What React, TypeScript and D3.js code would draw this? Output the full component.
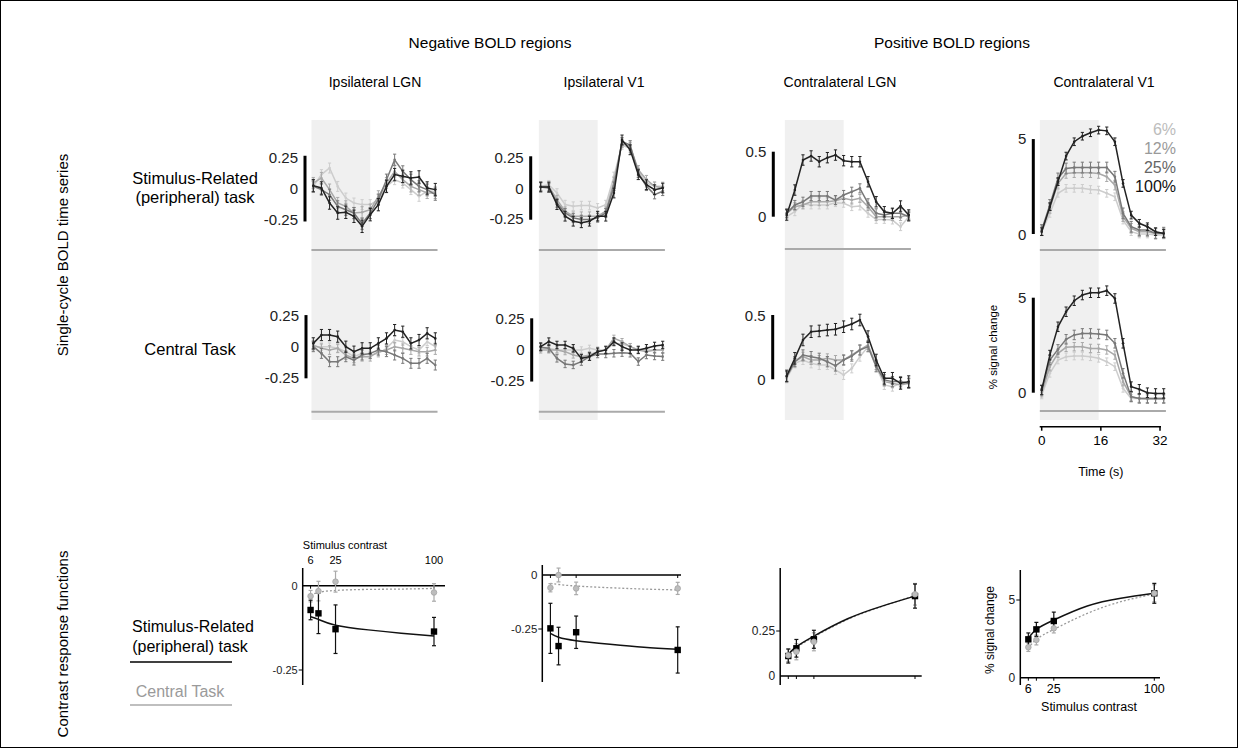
import * as d3 from 'd3';
import { useEffect, useRef } from 'react';

// time points of one stimulus cycle (s) and the contrast levels
const TIME = [0, 2.2, 4.4, 6.6, 8.8, 11, 13.2, 15.4, 17.6, 19.8, 22, 24.2, 26.4, 28.6, 30.8, 33];
const LEVELS = ['6%', '12%', '25%', '100%'];
const LINE_COLORS = ['#cdcdcd', '#a9a9a9', '#787878', '#222222'];
const LEGEND_COLORS = ['#bcbcbc', '#9a9a9a', '#666666', '#111111'];
const TIME_TICKS = [0, 16, 32];

// single-cycle BOLD time series, peripheral task (rows: 6, 12, 25, 100 %)
const IPSI_LGN_PERI = [
  [0.013, 0.108, 0.161, 0.013, -0.081, -0.121, -0.134, -0.134, -0.094, 0.013, 0.067, 0.04, -0.013, -0.067, -0.027, -0.027],
  [0.04, 0.081, -0.013, -0.121, -0.148, -0.202, -0.196, -0.175, -0.067, 0.04, 0.134, 0.067, 0.013, -0.013, -0.04, -0.04],
  [0.013, -0.013, -0.054, -0.148, -0.175, -0.202, -0.288, -0.202, -0.094, 0.067, 0.228, 0.134, 0.067, 0.013, -0.013, -0.054],
  [0.019, 0, -0.121, -0.202, -0.196, -0.228, -0.309, -0.215, -0.134, 0.013, 0.108, 0.094, 0.081, 0.089, 0, -0.013],
];
const IPSI_V1_PERI = [
  [0.014, 0.027, -0.041, -0.136, -0.149, -0.144, -0.144, -0.163, -0.136, 0.095, 0.353, 0.326, 0.136, 0.041, 0.014, 0.014],
  [0.014, 0.014, -0.095, -0.19, -0.231, -0.231, -0.231, -0.231, -0.19, 0.054, 0.367, 0.34, 0.149, 0.068, 0.014, 0],
  [0.008, 0, -0.122, -0.204, -0.245, -0.258, -0.258, -0.245, -0.204, 0.014, 0.38, 0.353, 0.122, 0.014, -0.054, -0.027],
  [0.008, 0.008, -0.136, -0.231, -0.272, -0.285, -0.272, -0.231, -0.231, -0.041, 0.394, 0.313, 0.109, 0.027, -0.014, 0],
];
const CONTRA_LGN_PERI = [
  [0, 0.038, 0.097, 0.09, 0.09, 0.09, 0.108, 0.103, 0.077, 0.082, 0.026, -0.021, -0.021, -0.026, -0.077, 0],
  [0.026, 0.077, 0.09, 0.115, 0.115, 0.115, 0.123, 0.141, 0.128, 0.141, 0.077, 0, 0, 0, 0, 0.013],
  [0.026, 0.09, 0.115, 0.159, 0.159, 0.159, 0.128, 0.167, 0.192, 0.218, 0.103, 0.026, 0.013, 0.026, 0.026, 0],
  [0.013, 0.205, 0.436, 0.467, 0.423, 0.454, 0.474, 0.431, 0.423, 0.423, 0.269, 0.115, 0.038, 0.026, 0.082, 0.013],
];
const CONTRA_V1_PERI = [
  [0.12, 1.08, 2.13, 2.39, 2.39, 2.39, 2.33, 2.3, 2.13, 1.95, 0.73, 0.12, 0, 0, -0.05, -0.05],
  [0.17, 1.34, 2.65, 3.17, 3.21, 3.21, 3.21, 3.17, 3.0, 2.56, 0.91, 0.3, 0.12, 0.12, 0.03, 0.03],
  [0.21, 1.52, 2.91, 3.43, 3.48, 3.48, 3.48, 3.48, 3.48, 3.0, 1.08, 0.38, 0.21, 0.21, 0.03, 0.07],
  [0.12, 1.43, 2.74, 4.08, 4.83, 5.12, 5.3, 5.44, 5.4, 4.83, 2.65, 0.99, 0.56, 0.38, 0.12, 0.03],
];

// central task
const IPSI_LGN_CENT = [
  [0, 0, 0, -0.013, -0.04, -0.081, -0.054, -0.067, -0.054, -0.013, 0.054, 0.04, 0, -0.027, 0.04, 0],
  [0.013, -0.013, -0.027, -0.013, -0.067, -0.094, -0.081, -0.081, -0.04, -0.027, 0, -0.013, -0.027, -0.04, -0.04, -0.027],
  [0, -0.054, -0.121, -0.121, -0.081, -0.108, -0.067, -0.054, -0.027, -0.04, -0.067, -0.094, -0.134, -0.134, -0.094, -0.148],
  [0.027, 0.094, 0.094, 0.081, 0, -0.04, -0.013, -0.013, 0.027, 0.067, 0.134, 0.121, 0.027, 0.054, 0.108, 0.067],
];
const IPSI_V1_CENT = [
  [0.008, 0.008, -0.005, -0.005, -0.005, -0.005, 0.008, -0.005, -0.005, 0.048, 0.043, 0.022, -0.005, -0.005, -0.005, -0.005],
  [-0.005, -0.005, -0.005, -0.019, -0.046, -0.059, -0.046, -0.019, -0.005, 0.089, 0.062, 0.022, -0.005, -0.019, -0.005, -0.005],
  [0.016, 0.008, -0.073, -0.118, -0.126, -0.099, -0.059, -0.038, -0.038, -0.032, -0.027, -0.032, -0.099, -0.046, -0.054, -0.059],
  [0.022, 0.062, 0.035, 0.035, 0.008, -0.073, -0.059, -0.019, -0.005, 0.062, 0.022, -0.005, -0.005, 0.008, 0.027, 0.035],
];
const CONTRA_LGN_CENT = [
  [0.008, 0.124, 0.15, 0.124, 0.111, 0.111, 0.073, 0.034, 0.085, 0.176, 0.254, 0.098, -0.044, -0.057, -0.031, -0.031],
  [0.021, 0.137, 0.176, 0.15, 0.15, 0.163, 0.15, 0.15, 0.189, 0.228, 0.267, 0.111, -0.018, -0.031, -0.044, -0.031],
  [0.021, 0.137, 0.189, 0.176, 0.163, 0.137, 0.104, 0.15, 0.181, 0.228, 0.254, 0.098, -0.005, -0.018, -0.018, -0.031],
  [0.026, 0.163, 0.306, 0.37, 0.376, 0.383, 0.389, 0.409, 0.43, 0.461, 0.332, 0.15, 0.008, 0.008, -0.031, -0.018],
];
const CONTRA_V1_CENT = [
  [-0.12, 1.02, 1.72, 1.89, 1.93, 1.93, 1.89, 1.81, 1.63, 1.37, 0.23, -0.3, -0.3, -0.35, -0.35, -0.35],
  [0, 1.37, 2.07, 2.39, 2.42, 2.42, 2.33, 2.33, 2.25, 1.98, 0.58, -0.21, -0.3, -0.3, -0.3, -0.3],
  [0.14, 1.72, 2.28, 2.81, 3.04, 3.12, 3.12, 3.09, 3.04, 2.6, 1.02, -0.21, -0.3, -0.3, -0.3, -0.3],
  [0.14, 1.98, 3.47, 4.26, 4.84, 5.14, 5.26, 5.26, 5.37, 4.96, 2.6, 0.32, 0.18, 0, -0.04, -0.04],
];

// s.e.m. per contrast level
const IPSI_LGN_PERI_ERR = [0.04, 0.045, 0.045, 0.05];
const IPSI_V1_PERI_ERR = [0.035, 0.035, 0.035, 0.04];
const CONTRA_LGN_PERI_ERR = [0.03, 0.03, 0.035, 0.04];
const CONTRA_V1_PERI_ERR = [0.2, 0.25, 0.28, 0.2];
const IPSI_LGN_CENT_ERR = [0.03, 0.035, 0.04, 0.045];
const IPSI_V1_CENT_ERR = [0.025, 0.025, 0.03, 0.03];
const CONTRA_LGN_CENT_ERR = [0.035, 0.035, 0.04, 0.045];
const CONTRA_V1_CENT_ERR = [0.2, 0.22, 0.25, 0.25];

// contrast response functions
const CONTRASTS = [6, 12, 25, 100];
const FIT_CONTRASTS = [6, 12, 25, 50, 75, 100];

const IPSI_LGN_CRF_PERI = [-0.072, -0.082, -0.129, -0.136];
const IPSI_LGN_CRF_PERI_ERR = [0.029, 0.06, 0.072, 0.042];
const IPSI_LGN_CRF_CENT = [-0.031, -0.016, 0.012, -0.02];
const IPSI_LGN_CRF_CENT_ERR = [0.017, 0.029, 0.031, 0.026];
const IPSI_LGN_FIT_PERI = [-0.092, -0.1, -0.117, -0.131, -0.141, -0.149];
const IPSI_LGN_FIT_CENT = [-0.028, -0.02, -0.014, -0.011, -0.01, -0.008];

const IPSI_V1_CRF_PERI = [-0.247, -0.329, -0.265, -0.347];
const IPSI_V1_CRF_PERI_ERR = [0.116, 0.087, 0.075, 0.107];
const IPSI_V1_CRF_CENT = [-0.059, 0.0, -0.062, -0.062];
const IPSI_V1_CRF_CENT_ERR = [0.019, 0.032, 0.029, 0.028];
const IPSI_V1_FIT_PERI = [-0.27, -0.288, -0.304, -0.321, -0.335, -0.344];
const IPSI_V1_FIT_CENT = [-0.039, -0.044, -0.051, -0.059, -0.065, -0.069];

const CONTRA_LGN_CRF_PERI = [0.111, 0.154, 0.204, 0.444];
const CONTRA_LGN_CRF_PERI_ERR = [0.039, 0.049, 0.05, 0.067];
const CONTRA_LGN_CRF_CENT = [0.115, 0.135, 0.19, 0.454];
const CONTRA_LGN_CRF_CENT_ERR = [0.035, 0.045, 0.05, 0.06];
const CONTRA_LGN_FIT_PERI = [0.122, 0.163, 0.222, 0.318, 0.387, 0.444];
const CONTRA_LGN_FIT_CENT = [0.118, 0.158, 0.217, 0.314, 0.385, 0.447];

const CONTRA_V1_CRF_PERI = [2.47, 3.11, 3.65, 5.43];
const CONTRA_V1_CRF_PERI_ERR = [0.41, 0.45, 0.57, 0.64];
const CONTRA_V1_CRF_CENT = [1.96, 2.43, 3.18, 5.43];
const CONTRA_V1_CRF_CENT_ERR = [0.27, 0.32, 0.3, 0.55];
const CONTRA_V1_FIT_PERI = [2.53, 3.11, 3.71, 4.61, 5.11, 5.43];
const CONTRA_V1_FIT_CENT = [1.89, 2.47, 3.11, 4.14, 4.89, 5.39];

const W = 1241;
const H = 749;
const FONT = '"Liberation Sans", Arial, Helvetica, sans-serif';

const fmt = (v: number) => (v === 0 ? '0' : String(v));

const App = () => {
  const svgRef = useRef<SVGSVGElement>(null);

  useEffect(() => {
    document.body.style.margin = '0';
    const svg = d3.select(svgRef.current);
    svg.selectAll('*').remove();

    const text = (x: number, y: number, s: string, size: number, anchor = 'middle', fill = '#000') =>
      svg.append('text')
        .attr('x', x)
        .attr('y', y)
        .attr('font-family', FONT)
        .attr('font-size', size)
        .attr('text-anchor', anchor)
        .attr('dominant-baseline', 'central')
        .attr('fill', fill)
        .text(s);

    // frame
    svg.append('rect')
      .attr('x', 0.5).attr('y', 0.5)
      .attr('width', W - 4).attr('height', H - 2)
      .attr('fill', 'none').attr('stroke', '#000').attr('stroke-width', 1);

    // headers
    text(490, 42, 'Negative BOLD regions', 15.5);
    text(952, 42, 'Positive BOLD regions', 15.5);
    const colTitles = ['Ipsilateral LGN', 'Ipsilateral V1', 'Contralateral LGN', 'Contralateral V1'];
    const colCenters = [375, 604, 840, 1104];
    colTitles.forEach((t, i) => text(colCenters[i], 82, t, 14));

    // row labels
    text(62, 255, 'Single-cycle BOLD time series', 15).attr('transform', 'rotate(-90 62 255)');
    text(62, 644, 'Contrast response functions', 15).attr('transform', 'rotate(-90 62 644)');
    text(195, 178, 'Stimulus-Related', 16.5);
    text(195, 197, '(peripheral) task', 16.5);
    text(190, 349, 'Central Task', 16.5);
    text(193, 626, 'Stimulus-Related', 16);
    text(190, 646, '(peripheral) task', 16);
    svg.append('line').attr('x1', 130).attr('x2', 232).attr('y1', 662).attr('y2', 662)
      .attr('stroke', '#000').attr('stroke-width', 1.5);
    text(180, 691, 'Central Task', 16, 'middle', '#9a9a9a');
    svg.append('line').attr('x1', 130).attr('x2', 232).attr('y1', 705).attr('y2', 705)
      .attr('stroke', '#aaa').attr('stroke-width', 1.5);

    // ---------- time series panels ----------
    const timePanels = [
      { series: IPSI_LGN_PERI, err: IPSI_LGN_PERI_ERR, x0: 313.3, y0: 188, tickVal: 0.25, tickY: 157, labels: [0.25, 0, -0.25], bar: [0.26, -0.27], barX: 305, baseY: 250 },
      { series: IPSI_V1_PERI, err: IPSI_V1_PERI_ERR, x0: 540.7, y0: 188, tickVal: 0.25, tickY: 157.5, labels: [0.25, 0, -0.25], bar: [0.26, -0.26], barX: 530.7, baseY: 250 },
      { series: CONTRA_LGN_PERI, err: CONTRA_LGN_PERI_ERR, x0: 786.7, y0: 216.7, tickVal: 0.5, tickY: 151.7, labels: [0.5, 0], bar: [0.5, 0], barX: 773.3, baseY: 249 },
      { series: CONTRA_V1_PERI, err: CONTRA_V1_PERI_ERR, x0: 1041.7, y0: 234, tickVal: 5, tickY: 138.5, labels: [5, 0], bar: [4.97, 0], barX: 1033.3, baseY: 250 },
      { series: IPSI_LGN_CENT, err: IPSI_LGN_CENT_ERR, x0: 313.3, y0: 346.7, tickVal: 0.25, tickY: 315.7, labels: [0.25, 0, -0.25], bar: [0.255, -0.255], barX: 306, baseY: 411.7 },
      { series: IPSI_V1_CENT, err: IPSI_V1_CENT_ERR, x0: 540.7, y0: 349.3, tickVal: 0.25, tickY: 318.3, labels: [0.25, 0, -0.25], bar: [0.25, -0.26], barX: 531.7, baseY: 411.7 },
      { series: CONTRA_LGN_CENT, err: CONTRA_LGN_CENT_ERR, x0: 786.7, y0: 379.3, tickVal: 0.5, tickY: 315, labels: [0.5, 0], bar: [0.5, 0], barX: 772.7, baseY: null },
      { series: CONTRA_V1_CENT, err: CONTRA_V1_CENT_ERR, x0: 1041.7, y0: 392.7, tickVal: 5, tickY: 297.7, labels: [5, 0], bar: [5, 0], barX: 1033.3, baseY: 411 },
    ];

    // stimulus period shading (one band per column, through both rows)
    timePanels.slice(0, 4).forEach(p => {
      const x = d3.scaleLinear().domain([0, 33]).range([p.x0, p.x0 + 122]);
      svg.append('rect')
        .attr('x', x(-0.5)).attr('y', 120)
        .attr('width', x(15.4) - x(-0.5)).attr('height', 300)
        .attr('fill', '#f0f0f0');
    });

    timePanels.forEach((p, pi) => {
      const x = d3.scaleLinear().domain([0, 33]).range([p.x0, p.x0 + 122]);
      const y = d3.scaleLinear().domain([0, p.tickVal]).range([p.y0, p.tickY]);
      const g = svg.append('g');

      if (p.baseY !== null) {
        g.append('line')
          .attr('x1', x(-0.5)).attr('x2', x(33.6))
          .attr('y1', p.baseY).attr('y2', p.baseY)
          .attr('stroke', '#aaa').attr('stroke-width', 2);
      }

      // scale bar + labels
      g.append('line')
        .attr('x1', p.barX).attr('x2', p.barX)
        .attr('y1', y(p.bar[0])).attr('y2', y(p.bar[1]))
        .attr('stroke', '#000').attr('stroke-width', 3);
      p.labels.forEach(v => {
        text(p.barX - 7, y(v), fmt(v), 15, 'end', '#222');
      });

      const line = d3.line<number>()
        .x((_, i) => x(TIME[i]))
        .y(d => y(d));

      p.series.forEach((vals, si) => {
        const col = LINE_COLORS[si];
        const e = p.err[si];
        g.append('path')
          .datum(vals)
          .attr('d', line)
          .attr('fill', 'none')
          .attr('stroke', col)
          .attr('stroke-width', 1.5);
        const pts = g.append('g').selectAll('g')
          .data(vals)
          .enter()
          .append('g');
        pts.append('line')
          .attr('x1', (_, i) => x(TIME[i])).attr('x2', (_, i) => x(TIME[i]))
          .attr('y1', d => y(d - e)).attr('y2', d => y(d + e))
          .attr('stroke', col).attr('stroke-width', 1);
        [-e, e].forEach(off => {
          pts.append('line')
            .attr('x1', (_, i) => x(TIME[i]) - 1.6).attr('x2', (_, i) => x(TIME[i]) + 1.6)
            .attr('y1', d => y(d + off)).attr('y2', d => y(d + off))
            .attr('stroke', col).attr('stroke-width', 1);
        });
        pts.append('circle')
          .attr('cx', (_, i) => x(TIME[i]))
          .attr('cy', d => y(d))
          .attr('r', 1.3)
          .attr('fill', col);
      });

      // legend in contralateral V1, top row
      if (pi === 3) {
        LEVELS.forEach((l, i) => text(1176, 129 + i * 19.3, l, 16, 'end', LEGEND_COLORS[i]));
      }
      // y label + time axis in contralateral V1, bottom row
      if (pi === 7) {
        text(993, 347, '% signal change', 11.5).attr('transform', 'rotate(-90 993 347)');
        const ay = 426.7;
        g.append('line')
          .attr('x1', x(0) - 2).attr('x2', x(32) + 1)
          .attr('y1', ay).attr('y2', ay)
          .attr('stroke', '#000').attr('stroke-width', 1.5);
        TIME_TICKS.forEach(t => {
          g.append('line')
            .attr('x1', x(t)).attr('x2', x(t))
            .attr('y1', ay).attr('y2', ay + 4)
            .attr('stroke', '#000').attr('stroke-width', 1.5);
          text(x(t), 440, String(t), 13.5);
        });
        text(x(16), 472, 'Time (s)', 12.5);
      }
    });

    // ---------- contrast response panels ----------
    const crfPanels = [
      { peri: IPSI_LGN_CRF_PERI, periErr: IPSI_LGN_CRF_PERI_ERR, cent: IPSI_LGN_CRF_CENT, centErr: IPSI_LGN_CRF_CENT_ERR, periFit: IPSI_LGN_FIT_PERI, centFit: IPSI_LGN_FIT_CENT, axisX: 302.7, x100: 434, xEnd: 445, y0: 585.7, tickVal: -0.25, tickY: 670, yTop: 568, yBot: 685, font: 11 },
      { peri: IPSI_V1_CRF_PERI, periErr: IPSI_V1_CRF_PERI_ERR, cent: IPSI_V1_CRF_CENT, centErr: IPSI_V1_CRF_CENT_ERR, periFit: IPSI_V1_FIT_PERI, centFit: IPSI_V1_FIT_CENT, axisX: 542.3, x100: 677.7, xEnd: 681, y0: 575, tickVal: -0.25, tickY: 629, yTop: 565, yBot: 682, font: 11.5 },
      { peri: CONTRA_LGN_CRF_PERI, periErr: CONTRA_LGN_CRF_PERI_ERR, cent: CONTRA_LGN_CRF_CENT, centErr: CONTRA_LGN_CRF_CENT_ERR, periFit: CONTRA_LGN_FIT_PERI, centFit: CONTRA_LGN_FIT_CENT, axisX: 780.2, x100: 915, xEnd: 921.7, y0: 676, tickVal: 0.25, tickY: 631, yTop: 568, yBot: 685, font: 12 },
      { peri: CONTRA_V1_CRF_PERI, periErr: CONTRA_V1_CRF_PERI_ERR, cent: CONTRA_V1_CRF_CENT, centErr: CONTRA_V1_CRF_CENT_ERR, periFit: CONTRA_V1_FIT_PERI, centFit: CONTRA_V1_FIT_CENT, axisX: 1020.3, x100: 1154.3, xEnd: 1160, y0: 677.7, tickVal: 5, tickY: 600, yTop: 570, yBot: 685, font: 12 },
    ];

    crfPanels.forEach((p, pi) => {
      const x = d3.scaleLinear().domain([0, 100]).range([p.axisX, p.x100]);
      const y = d3.scaleLinear().domain([0, p.tickVal]).range([p.y0, p.tickY]);
      const g = svg.append('g');

      g.append('line')
        .attr('x1', p.axisX).attr('x2', p.axisX)
        .attr('y1', p.yTop).attr('y2', p.yBot)
        .attr('stroke', '#000').attr('stroke-width', 1.5);
      g.append('line')
        .attr('x1', p.axisX).attr('x2', p.xEnd)
        .attr('y1', y(0)).attr('y2', y(0))
        .attr('stroke', '#000').attr('stroke-width', 1.5);
      CONTRASTS.forEach(c => {
        g.append('line')
          .attr('x1', x(c)).attr('x2', x(c))
          .attr('y1', y(0)).attr('y2', y(0) + 3)
          .attr('stroke', '#000').attr('stroke-width', 1);
      });
      g.append('line')
        .attr('x1', p.axisX - 4).attr('x2', p.axisX)
        .attr('y1', y(p.tickVal)).attr('y2', y(p.tickVal))
        .attr('stroke', '#000').attr('stroke-width', 1);
      text(p.axisX - 5, y(0), '0', p.font, 'end', '#222');
      text(p.axisX - 5, y(p.tickVal), fmt(p.tickVal), p.font, 'end', '#222');

      const fitLine = d3.line<number>()
        .x((_, i) => x(FIT_CONTRASTS[i]))
        .y(d => y(d))
        .curve(d3.curveNatural);

      g.append('path').datum(p.centFit).attr('d', fitLine)
        .attr('fill', 'none').attr('stroke', '#9a9a9a')
        .attr('stroke-width', 1.3).attr('stroke-dasharray', '2,2');
      g.append('path').datum(p.periFit).attr('d', fitLine)
        .attr('fill', 'none').attr('stroke', '#111').attr('stroke-width', 1.5);

      const errBars = (vals: number[], errs: number[], col: string) => {
        vals.forEach((v, i) => {
          const cx = x(CONTRASTS[i]);
          g.append('line')
            .attr('x1', cx).attr('x2', cx)
            .attr('y1', y(v - errs[i])).attr('y2', y(v + errs[i]))
            .attr('stroke', col).attr('stroke-width', 1.2);
          [-errs[i], errs[i]].forEach(o => {
            g.append('line')
              .attr('x1', cx - 2).attr('x2', cx + 2)
              .attr('y1', y(v + o)).attr('y2', y(v + o))
              .attr('stroke', col).attr('stroke-width', 1.2);
          });
        });
      };

      errBars(p.cent, p.centErr, '#aaa');
      errBars(p.peri, p.periErr, '#111');

      g.selectAll('rect.sq')
        .data(p.peri)
        .enter()
        .append('rect')
        .attr('x', (_, i) => x(CONTRASTS[i]) - 3.2)
        .attr('y', d => y(d) - 3.2)
        .attr('width', 6.4).attr('height', 6.4)
        .attr('fill', '#000');
      g.selectAll('circle.ct')
        .data(p.cent)
        .enter()
        .append('circle')
        .attr('cx', (_, i) => x(CONTRASTS[i]))
        .attr('cy', d => y(d))
        .attr('r', 2.8)
        .attr('fill', '#bdbdbd')
        .attr('stroke', '#a5a5a5')
        .attr('stroke-width', 0.8);

      if (pi === 0) {
        text(345, 545, 'Stimulus contrast', 11);
        [6, 25, 100].forEach(c => text(x(c), 560, String(c), 11));
      }
      if (pi === 3) {
        [6, 25, 100].forEach(c => text(x(c), 689, String(c), 12.5));
        text(1089, 707, 'Stimulus contrast', 12.5);
        text(990, 630, '% signal change', 12).attr('transform', 'rotate(-90 990 630)');
      }
    });
  }, []);

  return (
    <svg ref={svgRef} width={W} height={H} style={{ display: 'block', background: '#fff' }}></svg>
  );
};

export default App;
